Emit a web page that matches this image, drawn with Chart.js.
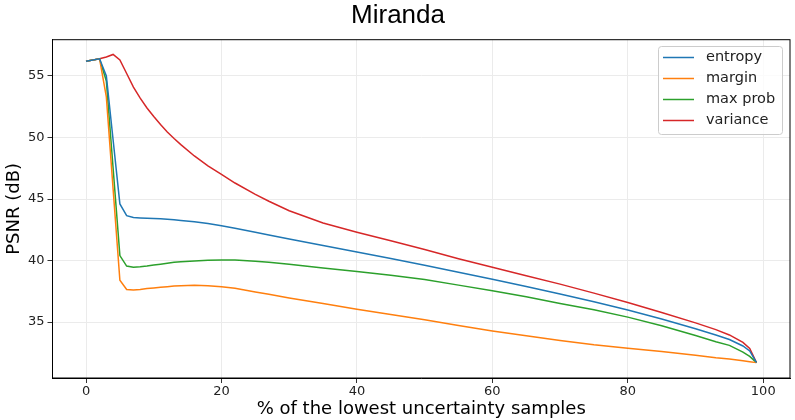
<!DOCTYPE html>
<html>
<head>
<meta charset="utf-8">
<script src="https://cdn.jsdelivr.net/npm/chart.js@4"></script>
<style>
  body { margin: 0; background: #fff; }
  #wrap { width: 795px; height: 420px; }
</style>
</head>
<body>
<div id="wrap"><canvas id="grafica" width="795" height="420"></canvas></div>
<script>
// valores (x = % de muestras)
const xs = [0, 2, 3, 4, 5, 6, 7, 8, 9, 10, 11, 12, 13, 14, 16, 18, 20, 22, 25, 27, 30, 35, 40, 45, 50, 55, 60, 65, 70, 75, 80, 85, 90, 93, 95, 97, 98, 99];

const entropy = [56.2, 56.4, 55.0, 49.8, 44.6, 43.65, 43.5, 43.46, 43.43, 43.41, 43.4, 43.36, 43.31, 43.26, 43.15, 43.0, 42.82, 42.62, 42.3, 42.08, 41.75, 41.22, 40.7, 40.17, 39.62, 39.05, 38.47, 37.88, 37.28, 36.65, 35.98, 35.25, 34.45, 33.95, 33.58, 33.05, 32.65, 31.7];
const margin = [56.2, 56.4, 53.3, 45.8, 38.4, 37.65, 37.6, 37.65, 37.72, 37.77, 37.82, 37.87, 37.92, 37.95, 37.98, 37.95, 37.86, 37.74, 37.45, 37.25, 36.95, 36.5, 36.03, 35.62, 35.18, 34.72, 34.27, 33.88, 33.5, 33.15, 32.87, 32.6, 32.3, 32.1, 32.0, 31.85, 31.78, 31.7];
const maxProb = [56.2, 56.4, 54.6, 47.5, 40.4, 39.55, 39.45, 39.49, 39.55, 39.63, 39.7, 39.78, 39.85, 39.9, 39.96, 40.02, 40.05, 40.04, 39.95, 39.85, 39.7, 39.4, 39.1, 38.8, 38.45, 38.0, 37.55, 37.05, 36.5, 36.0, 35.4, 34.7, 33.9, 33.4, 33.1, 32.55, 32.2, 31.7];
const variance = [56.2, 56.4, 56.55, 56.75, 56.3, 55.2, 54.1, 53.2, 52.4, 51.7, 51.05, 50.45, 49.92, 49.42, 48.5, 47.7, 47.0, 46.3, 45.38, 44.82, 44.05, 43.05, 42.3, 41.6, 40.9, 40.15, 39.45, 38.77, 38.08, 37.35, 36.58, 35.78, 34.93, 34.38, 33.95, 33.35, 32.85, 31.7];

const series = ["entropy", "margin", "max prob", "variance"];
const colores = ["#1f77b4", "#ff7f0e", "#2ca02c", "#d62728"];

const xTicks = [0, 20, 40, 60, 80, 100];
const yTicks = [35, 40, 45, 50, 55];

const puntos = vals => xs.map((x, i) => ({ x: x, y: vals[i] }));

// marco, título y leyenda al estilo matplotlib
const extras = {
  id: "extras",
  afterDraw(chart) {
    const ctx = chart.ctx;
    const a = chart.chartArea;
    ctx.save();
    ctx.strokeStyle = "#000";
    ctx.lineWidth = 1;
    ctx.strokeRect(a.left, a.top, a.right - a.left, a.bottom - a.top);

    ctx.fillStyle = "#000";
    ctx.font = "26px 'Liberation Sans', Arial, sans-serif";
    ctx.textAlign = "center";
    ctx.textBaseline = "alphabetic";
    ctx.fillText("Miranda", 398, 23);

    // leyenda
    const bx = 658.5, by = 46.5, bw = 124, bh = 88;
    ctx.beginPath();
    ctx.roundRect(bx, by, bw, bh, 3);
    ctx.fillStyle = "rgba(255,255,255,0.8)";
    ctx.fill();
    ctx.strokeStyle = "#cccccc";
    ctx.lineWidth = 1;
    ctx.stroke();

    ctx.font = "14.5px 'DejaVu Sans', sans-serif";
    ctx.textAlign = "left";
    ctx.textBaseline = "middle";
    chart.data.datasets.forEach((ds, i) => {
      const y = 57.5 + i * 21;
      ctx.strokeStyle = ds.borderColor;
      ctx.lineWidth = 1.5;
      ctx.beginPath();
      ctx.moveTo(663, y);
      ctx.lineTo(694, y);
      ctx.stroke();
      ctx.fillStyle = "#222";
      ctx.fillText(ds.label, 706, y);
    });
    ctx.restore();
  }
};

const fuenteTicks = { family: "'DejaVu Sans', sans-serif", size: 13 };
const fuenteTitulo = { family: "'DejaVu Sans', sans-serif", size: 18 };

new Chart(document.getElementById("grafica").getContext("2d"), {
  type: "line",
  data: {
    datasets: [entropy, margin, maxProb, variance].map((vals, i) => ({
      label: series[i],
      data: puntos(vals),
      borderColor: colores[i],
      backgroundColor: colores[i],
      borderWidth: 1.5,
      pointRadius: 0,
      tension: 0,
      fill: false
    }))
  },
  plugins: [extras],
  options: {
    responsive: false,
    animation: false,
    layout: { padding: { top: 39.7, right: 5, left: 0, bottom: 0 } },
    plugins: {
      legend: { display: false },
      title: { display: false },
      tooltip: { enabled: false }
    },
    scales: {
      x: {
        type: "linear",
        min: -4.95,
        max: 103.95,
        afterBuildTicks: s => { s.ticks = xTicks.map(v => ({ value: v })); },
        afterFit: s => { s.height = 42; },
        grid: { color: "#ebebeb", tickColor: "#333", tickLength: 5 },
        border: { color: "#000" },
        ticks: { font: fuenteTicks, color: "#222", padding: 1, maxRotation: 0 },
        title: { display: true, text: "% of the lowest uncertainty samples", font: fuenteTitulo, color: "#000", padding: 0 }
      },
      y: {
        min: 30.45,
        max: 57.95,
        afterBuildTicks: s => { s.ticks = yTicks.map(v => ({ value: v })); },
        afterFit: s => { s.width = 52.5; },
        grid: { color: "#ebebeb", tickColor: "#333", tickLength: 5 },
        border: { color: "#000" },
        ticks: { font: fuenteTicks, color: "#222", padding: 3 },
        title: { display: true, text: "PSNR (dB)", font: fuenteTitulo, color: "#000", padding: { top: 4, bottom: 0 } }
      }
    }
  }
});
</script>
</body>
</html>
